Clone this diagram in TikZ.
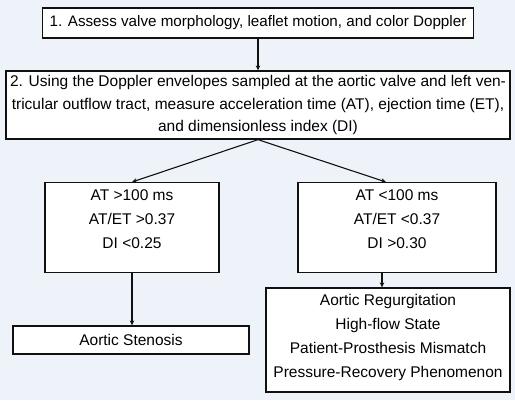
\documentclass[tikz,border=0pt]{standalone}
\usepackage{fontspec}
\setmainfont{Liberation Sans}
\usetikzlibrary{arrows.meta,positioning}
\definecolor{bgpanel}{HTML}{EEF2F9}
\definecolor{ink}{HTML}{111111}
\tikzset{
  stepbox/.style={draw=ink,fill=white,line width=1.3pt,align=center,
                  inner sep=0pt,font=\fontsize{15.5}{24}\selectfont},
  flowarr/.style={-{Stealth[length=5pt,width=4.5pt]},line width=1.1pt,draw=ink}
}
\begin{document}
\begin{tikzpicture}[x=1pt,y=-1pt]
    \fill[bgpanel] (0,0) rectangle (515,400);
    \path[use as bounding box] (0,0) rectangle (515,400);
    \node[stepbox,minimum width=431pt,minimum height=30pt,
          font=\fontsize{15.2}{24}\selectfont] (assess) at (258,23)
      {1. Assess valve morphology, leaflet motion, and color Doppler};
    \node[stepbox,minimum width=504pt,minimum height=68pt,
          font=\fontsize{15.5}{22.5}\selectfont] (measure) at (258,105)
      {2. Using the Doppler envelopes sampled at the aortic valve and left ven-\\
       tricular outflow tract, measure acceleration time (AT), ejection time (ET),\\
       and dimensionless index (DI)};
    \node[stepbox,minimum width=174pt,minimum height=90pt,anchor=north] (cndhigh)
      at (132,182) {AT >100 ms\\AT/ET >0.37\\DI <0.25\\[-7pt]};
    \node[stepbox,minimum width=198pt,minimum height=90pt,anchor=north] (cndlow)
      at (397,182) {AT <100 ms\\AT/ET <0.37\\DI >0.30\\[-7pt]};
    \node[stepbox,minimum width=236pt,minimum height=28pt] (stenosis) at (131,340)
      {Aortic Stenosis};
    \node[stepbox,minimum width=244pt,minimum height=104pt] (others) at (388,340)
      {Aortic Regurgitation\\High-flow State\\Patient-Prosthesis Mismatch\\
       Pressure-Recovery Phenomenon\\[-16pt]};
    \draw[flowarr] (assess.south) -- (measure.north);
    \draw[flowarr] (measure.south) -- (cndhigh.north);
    \draw[flowarr] (measure.south) -- ([xshift=-11pt]cndlow.north);
    \draw[flowarr] (cndhigh.south) -- (cndhigh.south |- stenosis.north);
    \draw[flowarr] ([xshift=-15pt]cndlow.south) -- ([xshift=-6pt]others.north);
\end{tikzpicture}
\end{document}
